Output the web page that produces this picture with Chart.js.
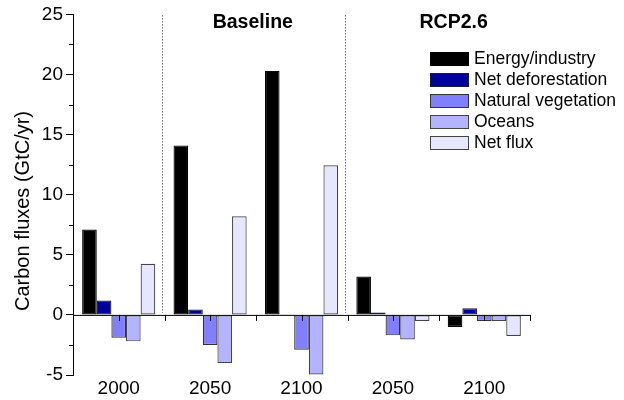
<!DOCTYPE html>
<html>
<head>
<meta charset="utf-8">
<script src="https://cdn.jsdelivr.net/npm/chart.js@4.4.1/dist/chart.umd.min.js"></script>
<style>
  html, body { margin: 0; padding: 0; background: #fff; }
  #wrap { width: 624px; height: 400px; }
</style>
</head>
<body>
<div id="wrap"><canvas id="grafico" width="624" height="400"></canvas></div>
<script>
// datos
var categorias = ['2000', '2050', '2100', '2050', '2100'];
var energiaIndustria = [7.1, 14.1, 20.3, 3.2, -1.0];
var deforestacionNeta = [1.2, 0.45, 0.05, 0.2, 0.55];
var vegetacionNatural = [-1.9, -2.5, -2.9, -1.7, -0.5];
var oceanos = [-2.2, -4.0, -4.95, -2.05, -0.5];
var flujoNeto = [4.25, 8.2, 12.45, -0.5, -1.75];
var nombresSeries = ['Energy/industry', 'Net deforestation', 'Natural vegetation', 'Oceans', 'Net flux'];
var escenarios = ['Baseline', 'RCP2.6'];
var ejeY = { min: -5, max: 25, paso: 5, menor: 2.5 };
var tituloEjeY = 'Carbon fluxes (GtC/yr)';

var fuente = '"Liberation Sans", Arial, sans-serif';
var colores = ['#000000', '#00009c', '#8080ff', '#b3b3ff', '#e6e6ff'];
var bordes = ['#000000', '#1a1a3a', '#333333', '#444444', '#444444'];
var valores = [energiaIndustria, deforestacionNeta, vegetacionNatural, oceanos, flujoNeto];

var datasets = valores.map(function(v, i) {
    return {
        label: nombresSeries[i],
        data: v,
        backgroundColor: colores[i],
        borderColor: bordes[i],
        borderWidth: 1.2,
        borderSkipped: false,
        categoryPercentage: 0.8,
        barPercentage: 1.0
    };
});

var extras = {
    id: 'extras',
    afterDatasetsDraw: function(chart) {
        var ctx = chart.ctx;
        var x = chart.scales.x, y = chart.scales.y;
        var area = chart.chartArea;
        var y0 = y.getPixelForValue(0);
        ctx.save();
        // linea del cero y marcas
        ctx.strokeStyle = '#000';
        ctx.lineWidth = 1;
        ctx.beginPath();
        ctx.moveTo(area.left, y0 + 0.5);
        ctx.lineTo(area.right, y0 + 0.5);
        for (var i = 0; i < categorias.length; i++) {
            var c = Math.round(x.getPixelForValue(i)) + 0.5;
            ctx.moveTo(c, y0);
            ctx.lineTo(c, y0 + 6);
            var b = Math.round(c + x.width / categorias.length / 2) + 0.5;
            ctx.moveTo(b, y0);
            ctx.lineTo(b, y0 + 6);
        }
        // marcas menores del eje y
        for (var v = ejeY.min + ejeY.menor; v < ejeY.max; v += ejeY.paso) {
            var py = Math.round(y.getPixelForValue(v)) + 0.5;
            ctx.moveTo(area.left - 4, py);
            ctx.lineTo(area.left, py);
        }
        ctx.stroke();

        // separadores punteados
        ctx.strokeStyle = '#222';
        ctx.setLineDash([1, 2]);
        ctx.beginPath();
        [0, 2].forEach(function(i) {
            var sx = Math.round((x.getPixelForValue(i) + x.getPixelForValue(i + 1)) / 2) - 1.5;
            ctx.moveTo(sx, area.top + 1);
            ctx.lineTo(sx, y0 - 2);
        });
        ctx.stroke();
        ctx.setLineDash([]);

        // titulos de escenario
        ctx.fillStyle = '#000';
        ctx.font = 'bold 19.5px ' + fuente;
        ctx.textAlign = 'center';
        ctx.textBaseline = 'middle';
        var cx1 = (x.getPixelForValue(1) + x.getPixelForValue(2)) / 2;
        var cx2 = (x.getPixelForValue(3) + x.getPixelForValue(4)) / 2 + 15;
        ctx.fillText(escenarios[0], cx1 - 3, 23);
        ctx.fillText(escenarios[1], cx2, 23);

        // leyenda
        ctx.font = '17.5px ' + fuente;
        ctx.textAlign = 'left';
        chart.data.datasets.forEach(function(ds, i) {
            var ly = 52 + i * 21;
            ctx.fillStyle = ds.backgroundColor;
            ctx.fillRect(430, ly, 39, 14);
            ctx.strokeStyle = ds.borderColor;
            ctx.strokeRect(430.5, ly + 0.5, 38, 13);
            ctx.fillStyle = '#000';
            ctx.fillText(ds.label, 474, ly + 7.5);
        });

        // titulo del eje y
        ctx.translate(23, 211);
        ctx.rotate(-Math.PI / 2);
        ctx.font = '20px ' + fuente;
        ctx.textAlign = 'center';
        ctx.fillText(tituloEjeY, 0, 0);
        ctx.restore();
    }
};

var myChart = new Chart(document.getElementById('grafico').getContext('2d'), {
    type: 'bar',
    data: { labels: categorias, datasets: datasets },
    options: {
        responsive: false,
        animation: false,
        layout: { padding: { top: 14, right: 94, left: 0, bottom: 0 } },
        plugins: { legend: { display: false }, tooltip: { enabled: false } },
        scales: {
            x: {
                grid: { display: false, drawTicks: false },
                border: { display: false },
                ticks: { color: '#000', font: { family: fuente, size: 19 }, padding: 2 },
                afterFit: function(s) { s.height = 25; }
            },
            y: {
                min: ejeY.min,
                max: ejeY.max,
                border: { display: true, color: '#000', width: 1 },
                grid: { display: true, drawOnChartArea: false, drawTicks: true, tickLength: 7, color: '#000' },
                ticks: { stepSize: ejeY.paso, color: '#000', font: { family: fuente, size: 19 }, padding: 3 },
                afterFit: function(s) { s.width = 73; }
            }
        }
    },
    plugins: [extras]
});
</script>
</body>
</html>
